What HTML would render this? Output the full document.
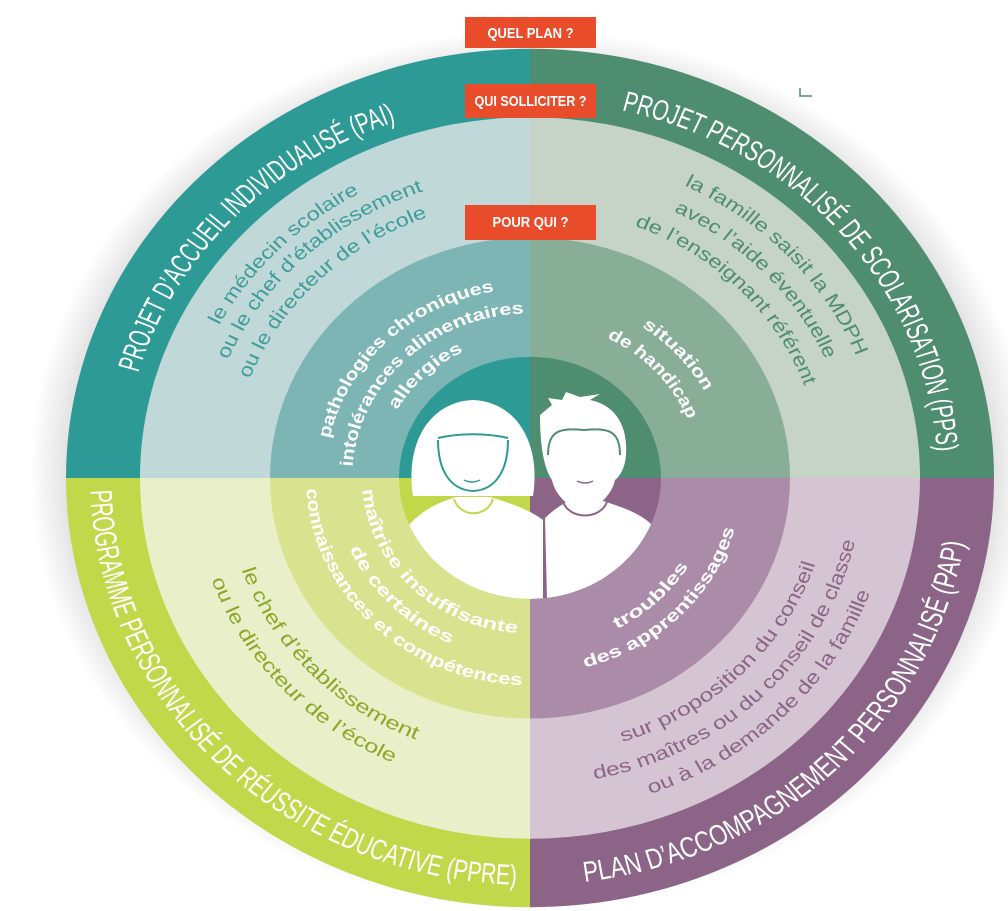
<!DOCTYPE html>
<html><head><meta charset="utf-8"><style>
html,body{margin:0;padding:0;background:#fff;width:1008px;height:911px;overflow:hidden;}
svg{display:block;}
.o{font-family:"Liberation Sans Narrow","Liberation Sans",sans-serif;font-size:31px;fill:#fff;}
.l{font-family:"Liberation Sans",sans-serif;font-size:20px;}
.m{font-family:"Liberation Sans",sans-serif;font-size:18px;font-weight:bold;fill:#fff;}
.r{font-family:"Liberation Sans Narrow","Liberation Sans",sans-serif;font-size:15px;font-weight:bold;fill:#fff;}
</style></head><body>
<svg width="1008" height="911" viewBox="0 0 1008 911" xmlns="http://www.w3.org/2000/svg" overflow="hidden">
<defs>
<radialGradient id="halo" cx="50%" cy="50%" r="50%">
<stop offset="0.9" stop-color="#d8d8d8"/><stop offset="0.95" stop-color="#ececec"/><stop offset="1" stop-color="#fff"/>
</radialGradient>
<clipPath id="ic"><ellipse cx="530" cy="478" rx="131" ry="121"/></clipPath>
<path id="t408" d="M-353.3,-204 A408,408 0 0 1 353.3,-204"/>
<path id="t352" d="M-304.8,-176 A352,352 0 0 1 304.8,-176"/>
<path id="t328" d="M-284,-164 A328,328 0 0 1 284,-164"/>
<path id="t300" d="M-259.8,-150 A300,300 0 0 1 259.8,-150"/>
<path id="t322" d="M-278.9,-161 A322,322 0 0 1 278.9,-161"/>
<path id="t292" d="M-252.9,-146 A292,292 0 0 1 252.9,-146"/>
<path id="t205" d="M-177.5,-102.5 A205,205 0 0 1 177.5,-102.5"/>
<path id="t178" d="M-154.1,-89 A178,178 0 0 1 154.1,-89"/>
<path id="t152" d="M-131.6,-76 A152,152 0 0 1 131.6,-76"/>
<path id="t198" d="M-171.5,-99 A198,198 0 0 1 171.5,-99"/>
<path id="t170" d="M-147.2,-85 A170,170 0 0 1 147.2,-85"/>
<path id="b440" d="M-381,220 A440,440 0 0 0 381,220"/>
<path id="b305" d="M-264.1,152.5 A305,305 0 0 0 264.1,152.5"/>
<path id="b337" d="M-291.8,168.5 A337,337 0 0 0 291.8,168.5"/>
<path id="b300" d="M-259.8,150 A300,300 0 0 0 259.8,150"/>
<path id="b332" d="M-287.5,166 A332,332 0 0 0 287.5,166"/>
<path id="b362" d="M-313.5,181 A362,362 0 0 0 313.5,181"/>
<path id="b168" d="M-145.5,84 A168,168 0 0 0 145.5,84"/>
<path id="b196" d="M-169.7,98 A196,196 0 0 0 169.7,98"/>
<path id="b224" d="M-194,112 A224,224 0 0 0 194,112"/>
<path id="b185" d="M-160.2,92.5 A185,185 0 0 0 160.2,92.5"/>
<path id="b212" d="M-183.6,106 A212,212 0 0 0 183.6,106"/>
</defs>
<ellipse cx="530" cy="470" rx="500" ry="440" fill="url(#halo)"/>
<path d="M800,88 L800,96 L812,96" stroke="#4e8d6f" stroke-width="1.5" fill="none"/>
<g transform="translate(530,478) scale(1,0.925)">
<path d="M0,0 L-464,0 A464,464 0 0 1 0,-464Z" fill="#2e9a96"/>
<path d="M0,0 L0,-464 A464,464 0 0 1 464,0Z" fill="#4e8d6f"/>
<path d="M0,0 L464,0 A464,464 0 0 1 0,464Z" fill="#8b6487"/>
<path d="M0,0 L0,464 A464,464 0 0 1 -464,0Z" fill="#c1d84a"/>
<path d="M0,0 L-390,0 A390,390 0 0 1 0,-390Z" fill="#c1d8d9"/>
<path d="M0,0 L0,-390 A390,390 0 0 1 390,0Z" fill="#c6d4c7"/>
<path d="M0,0 L390,0 A390,390 0 0 1 0,390Z" fill="#d5c5d3"/>
<path d="M0,0 L0,390 A390,390 0 0 1 -390,0Z" fill="#e9f0c9"/>
<path d="M0,0 L-260,0 A260,260 0 0 1 0,-260Z" fill="#7db4b4"/>
<path d="M0,0 L0,-260 A260,260 0 0 1 260,0Z" fill="#88ae97"/>
<path d="M0,0 L260,0 A260,260 0 0 1 0,260Z" fill="#ab8ca8"/>
<path d="M0,0 L0,260 A260,260 0 0 1 -260,0Z" fill="#d7e38f"/>
<path d="M0,0 L-131,0 A131,131 0 0 1 0,-131Z" fill="#2e9a96"/>
<path d="M0,0 L0,-131 A131,131 0 0 1 131,0Z" fill="#4e8d6f"/>
<path d="M0,0 L131,0 A131,131 0 0 1 0,131Z" fill="#8b6487"/>
<path d="M0,0 L0,131 A131,131 0 0 1 -131,0Z" fill="#c1d84a"/>

<g transform="rotate(313.5)"><text class="o"><textPath href="#t408" startOffset="50%" text-anchor="middle" textLength="389" lengthAdjust="spacingAndGlyphs">PROJET D’ACCUEIL INDIVIDUALISÉ (PAI)</textPath></text></g>
<g transform="rotate(49.5)"><text class="o"><textPath href="#t408" startOffset="50%" text-anchor="middle" textLength="520" lengthAdjust="spacingAndGlyphs">PROJET PERSONNALISÉ DE SCOLARISATION (PPS)</textPath></text></g>
<g transform="rotate(45)"><text class="o"><textPath href="#b440" startOffset="50%" text-anchor="middle" textLength="664" lengthAdjust="spacingAndGlyphs">PROGRAMME PERSONNALISÉ DE RÉUSSITE ÉDUCATIVE (PPRE)</textPath></text></g>
<g transform="rotate(-44)"><text class="o"><textPath href="#b440" startOffset="50%" text-anchor="middle" textLength="566" lengthAdjust="spacingAndGlyphs">PLAN D’ACCOMPAGNEMENT PERSONNALISÉ (PAP)</textPath></text></g>

<g transform="rotate(314.5)"><text class="l" fill="#3f9c9a"><textPath href="#t352" startOffset="50%" text-anchor="middle" textLength="203" lengthAdjust="spacingAndGlyphs">le médecin scolaire</textPath></text></g>
<g transform="rotate(317)"><text class="l" fill="#3f9c9a"><textPath href="#t328" startOffset="50%" text-anchor="middle" textLength="275" lengthAdjust="spacingAndGlyphs">ou le chef d’établissement</textPath></text></g>
<g transform="rotate(315.5)"><text class="l" fill="#3f9c9a"><textPath href="#t300" startOffset="50%" text-anchor="middle" textLength="257" lengthAdjust="spacingAndGlyphs">ou le directeur de l’école</textPath></text></g>
<g transform="rotate(47)"><text class="l" fill="#4e8d6f"><textPath href="#t352" startOffset="50%" text-anchor="middle" textLength="258" lengthAdjust="spacingAndGlyphs">la famille saisit la MDPH</textPath></text></g>
<g transform="rotate(46.5)"><text class="l" fill="#4e8d6f"><textPath href="#t322" startOffset="50%" text-anchor="middle" textLength="225" lengthAdjust="spacingAndGlyphs">avec l’aide éventuelle</textPath></text></g>
<g transform="rotate(45.5)"><text class="l" fill="#4e8d6f"><textPath href="#t292" startOffset="50%" text-anchor="middle" textLength="250" lengthAdjust="spacingAndGlyphs">de l’enseignant référent</textPath></text></g>
<g transform="rotate(46.5)"><text class="l" fill="#8fa62a"><textPath href="#b305" startOffset="50%" text-anchor="middle" textLength="261" lengthAdjust="spacingAndGlyphs">le chef d’établissement</textPath></text></g>
<g transform="rotate(47.5)"><text class="l" fill="#8fa62a"><textPath href="#b337" startOffset="50%" text-anchor="middle" textLength="276" lengthAdjust="spacingAndGlyphs">ou le directeur de l’école</textPath></text></g>
<g transform="rotate(-45)"><text class="l" fill="#8b6487"><textPath href="#b300" startOffset="50%" text-anchor="middle" textLength="283" lengthAdjust="spacingAndGlyphs">sur proposition du conseil</textPath></text></g>
<g transform="rotate(-44.7)"><text class="l" fill="#8b6487"><textPath href="#b332" startOffset="50%" text-anchor="middle" textLength="388" lengthAdjust="spacingAndGlyphs">des maîtres ou du conseil de classe</textPath></text></g>
<g transform="rotate(-44.7)"><text class="l" fill="#8b6487"><textPath href="#b362" startOffset="50%" text-anchor="middle" textLength="320" lengthAdjust="spacingAndGlyphs">ou à la demande de la famille</textPath></text></g>

<g transform="rotate(316)"><text class="m"><textPath href="#t205" startOffset="50%" text-anchor="middle" textLength="243" lengthAdjust="spacingAndGlyphs">pathologies chroniques</textPath></text></g>
<g transform="rotate(316)"><text class="m"><textPath href="#t178" startOffset="50%" text-anchor="middle" textLength="261" lengthAdjust="spacingAndGlyphs">intolérances alimentaires</textPath></text></g>
<g transform="rotate(316.5)"><text class="m"><textPath href="#t152" startOffset="50%" text-anchor="middle" textLength="93" lengthAdjust="spacingAndGlyphs">allergies</textPath></text></g>
<g transform="rotate(48)"><text class="m"><textPath href="#t198" startOffset="50%" text-anchor="middle" textLength="95" lengthAdjust="spacingAndGlyphs">situation</textPath></text></g>
<g transform="rotate(47.5)"><text class="m"><textPath href="#t170" startOffset="50%" text-anchor="middle" textLength="122" lengthAdjust="spacingAndGlyphs">de handicap</textPath></text></g>
<g transform="rotate(45)"><text class="m"><textPath href="#b168" startOffset="50%" text-anchor="middle" textLength="239" lengthAdjust="spacingAndGlyphs">maîtrise insuffisante</textPath></text></g>
<g transform="rotate(45.5)"><text class="m"><textPath href="#b196" startOffset="50%" text-anchor="middle" textLength="147" lengthAdjust="spacingAndGlyphs">de certaines</textPath></text></g>
<g transform="rotate(44.5)"><text class="m"><textPath href="#b224" startOffset="50%" text-anchor="middle" textLength="332" lengthAdjust="spacingAndGlyphs">connaissances et compétences</textPath></text></g>
<g transform="rotate(-43.5)"><text class="m"><textPath href="#b185" startOffset="50%" text-anchor="middle" textLength="100" lengthAdjust="spacingAndGlyphs">troubles</textPath></text></g>
<g transform="rotate(-45)"><text class="m"><textPath href="#b212" startOffset="50%" text-anchor="middle" textLength="222" lengthAdjust="spacingAndGlyphs">des apprentissages</textPath></text></g>
</g>

<g clip-path="url(#ic)">
<path d="M413,496 C405,445 428,402 473,400 C518,402 541,445 533,496 Z" fill="#fff"/>
<path d="M438,440 C438,470 450,490 473,491 C496,490 508,470 508,440" fill="none" stroke="#2e9a96" stroke-width="2"/>
<path d="M438,438 C460,433 486,433 508,438" fill="none" stroke="#2e9a96" stroke-width="2"/>
<path d="M464,480 Q472,484 480,480" fill="none" stroke="#2e9a96" stroke-width="1.5"/>
<path d="M405,530 C420,510 440,502 456,497 L490,497 C510,503 530,510 543,520 L545,600 L400,600 Z" fill="#fff"/>
<path d="M454,499 C460,518 487,518 493,499" fill="none" stroke="#c1d84a" stroke-width="2"/>
<path d="M540,415 L552,405 L548,398 L562,400 L566,392 L580,397 L600,394 L590,400 C615,405 628,425 626,455 C625,470 618,478 615,480 C612,495 596,510 584,510 C570,510 555,495 552,480 C545,470 540,450 540,415Z" fill="#fff"/>
<path d="M548,455 C548,430 560,428 584,430 C608,428 620,430 620,455" fill="none" stroke="#4e8d6f" stroke-width="2"/>
<path d="M577,481 Q585,485 593,481" fill="none" stroke="#8b6487" stroke-width="1.5"/>
<path d="M545,518 C555,508 565,503 570,500 L600,500 C615,505 640,512 652,525 L660,600 L547,600 Z" fill="#fff"/>
<path d="M563,502 C570,520 600,520 607,502" fill="none" stroke="#8b6487" stroke-width="2"/>
<path d="M544,520 L544,600" stroke="#8b6487" stroke-width="2"/>
</g>

<rect x="465" y="17" width="131" height="31" fill="#e84c2b"/>
<text class="r" x="530.5" y="38" text-anchor="middle" textLength="86" lengthAdjust="spacingAndGlyphs">QUEL PLAN ?</text>
<rect x="465" y="84" width="131" height="34" fill="#e84c2b"/>
<text class="r" x="530.5" y="106" text-anchor="middle" textLength="112" lengthAdjust="spacingAndGlyphs">QUI SOLLICITER ?</text>
<rect x="465" y="205" width="131" height="35" fill="#e84c2b"/>
<text class="r" x="530.5" y="227" text-anchor="middle" textLength="76" lengthAdjust="spacingAndGlyphs">POUR QUI ?</text>
</svg>
</body></html>
